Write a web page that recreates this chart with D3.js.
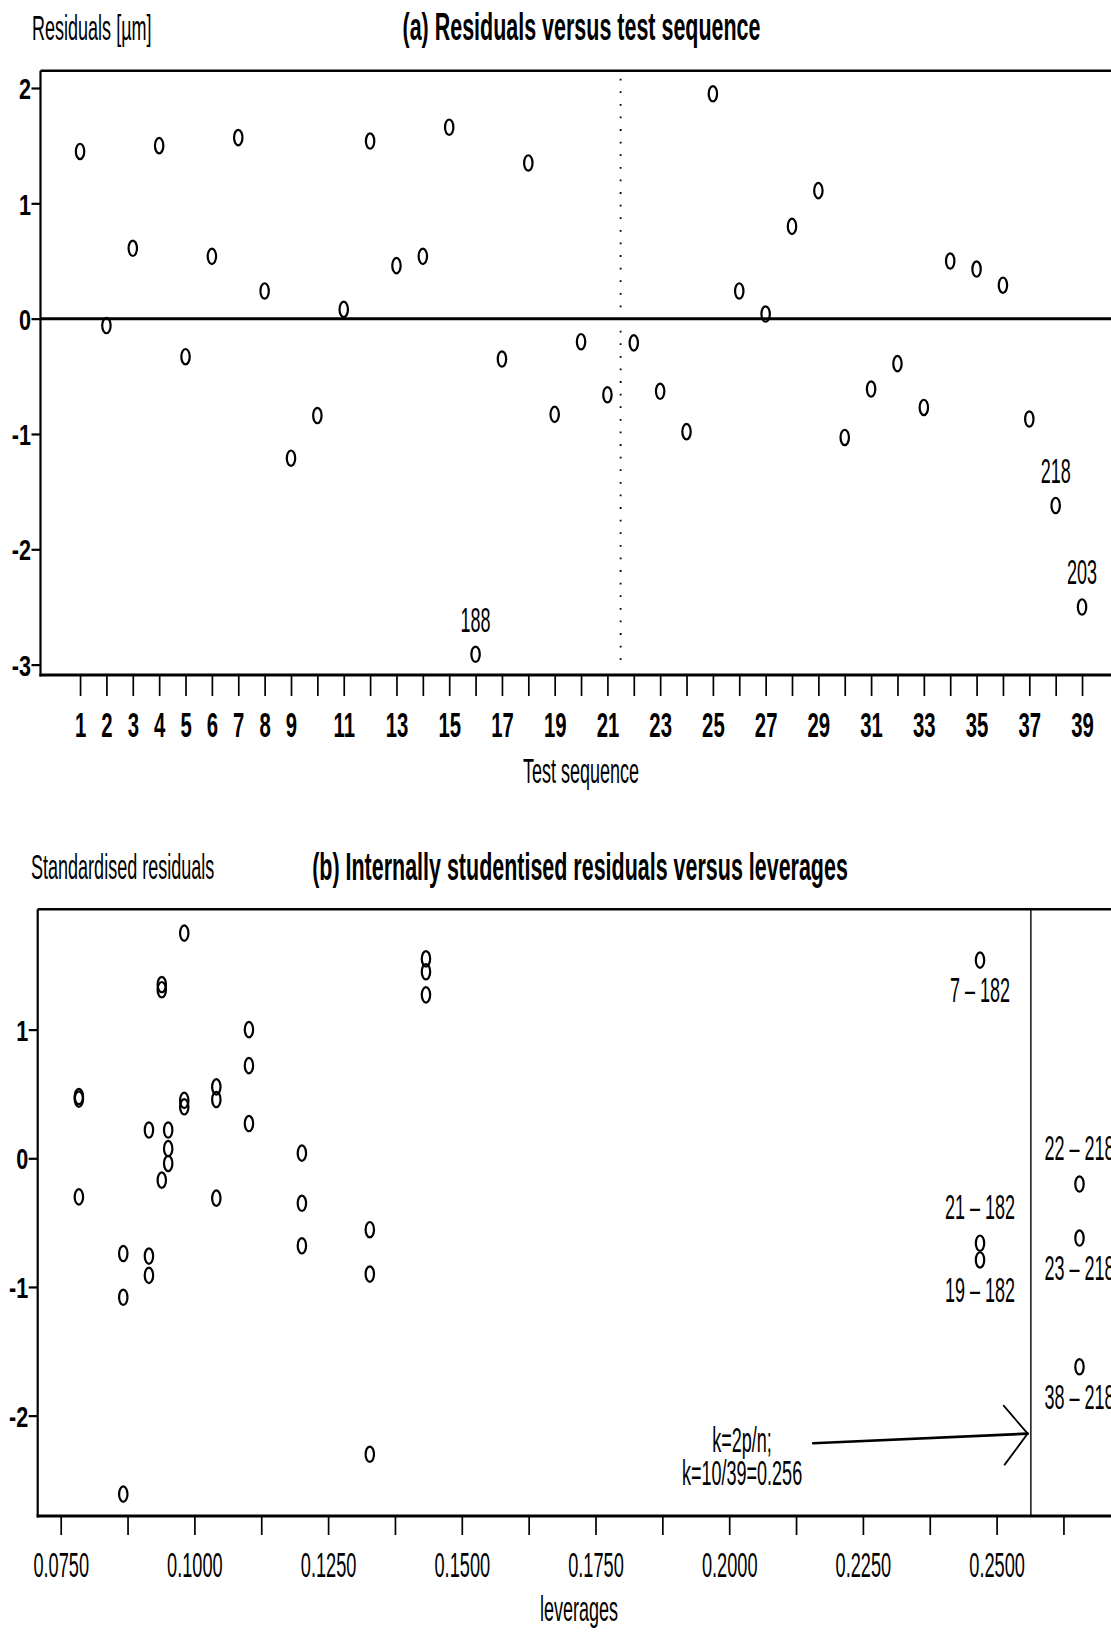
<!DOCTYPE html>
<html>
<head>
<meta charset="utf-8">
<script src="https://cdn.jsdelivr.net/npm/d3@7"></script>
<style>
  html, body { margin: 0; padding: 0; background: #fff; }
  svg { display: block; font-family: "Liberation Sans", Arial, Helvetica, sans-serif; }
</style>
</head>
<body>
<svg id="fig" width="1111" height="1632"></svg>
<script>
// ---------- Panel (a): residuals in test order ----------
const testSequence = d3.range(1, 40);
const residuals = [
  1.45, -0.06, 0.61, 1.50, -0.33, 0.54, 1.57, 0.24, -1.21, -0.84,
  0.08, 1.54, 0.46, 0.54, 1.66, -2.91, -0.35, 1.35, -0.83, -0.20,
  -0.66, -0.21, -0.63, -0.98, 1.95, 0.24, 0.04, 0.80, 1.11, -1.03,
  -0.61, -0.39, -0.77, 0.50, 0.43, 0.29, -0.87, -1.62, -2.50
];
const residualTicks = [-3, -2, -1, 0, 1, 2];
const sequenceTickLabels = [1, 2, 3, 4, 5, 6, 7, 8, 9, 11, 13, 15, 17, 19, 21, 23, 25, 27, 29, 31, 33, 35, 37, 39];
const residualCallouts = [
  { run: 16, text: "188" },
  { run: 38, text: "218" },
  { run: 39, text: "203" }
];
const blockSplit = 21.5;

// ---------- Panel (b): studentised residuals against leverage ----------
const leverageLevels = [0.0784, 0.0867, 0.0915, 0.0939, 0.0951, 0.0981, 0.1041,
                        0.1102, 0.1201, 0.1328, 0.1433, 0.2469, 0.2655];
const studentised = [
  [0.48, 0.46, -0.30],
  [-0.74, -1.08, -2.61],
  [0.22, -0.76, -0.91],
  [1.35, 1.31, -0.17],
  [0.22, 0.075, -0.04],
  [1.75, 0.45, 0.40],
  [0.555, 0.457, -0.31],
  [1.00, 0.72, 0.27],
  [0.04, -0.35, -0.68],
  [-0.555, -0.90, -2.30],
  [1.55, 1.45, 1.27],
  [1.54, -0.66, -0.79],
  [-0.20, -0.62, -1.62]
];
const leverageTicks = [0.0750, 0.0875, 0.1000, 0.1125, 0.1250, 0.1375, 0.1500, 0.1625,
                       0.1750, 0.1875, 0.2000, 0.2125, 0.2250, 0.2375, 0.2500, 0.2625];
const leverageTickLabels = [0.0750, 0.1000, 0.1250, 0.1500, 0.1750, 0.2000, 0.2250, 0.2500];
const stdTicks = [-2, -1, 0, 1];
const leverageCallouts = [
  { lev: 0.2469, value: 1.54,  text: "7 \u2013 182",  side: "below" },
  { lev: 0.2469, value: -0.66, text: "21 \u2013 182", side: "above" },
  { lev: 0.2469, value: -0.79, text: "19 \u2013 182", side: "below" },
  { lev: 0.2655, value: -0.20, text: "22 \u2013 218", side: "above" },
  { lev: 0.2655, value: -0.62, text: "23 \u2013 218", side: "below" },
  { lev: 0.2655, value: -1.62, text: "38 \u2013 218", side: "below" }
];
const leverageCutoff = 10 / 39;

// ---------- drawing helpers ----------
const svg = d3.select("#fig");
const W = 1111;

// narrow, tall lettering: glyphs are squeezed horizontally
function stretched(sel, x, y, str, o) {
  return sel.append("text")
    .attr("transform", `translate(${x},${y}) scale(${o.sx},1)`)
    .attr("font-size", o.size)
    .attr("font-weight", o.bold ? "bold" : "normal")
    .attr("text-anchor", o.anchor || "start")
    .attr("fill", "#000")
    .text(str);
}
const REG = { size: 35, sx: 0.515 };
const TITLE = { size: 38, sx: 0.565, bold: true, anchor: "middle" };

function hline(g, x1, x2, y, w) {
  g.append("line").attr("x1", x1).attr("x2", x2).attr("y1", y).attr("y2", y)
    .attr("stroke", "#000").attr("stroke-width", w);
}
function vline(g, x, y1, y2, w, dash) {
  const l = g.append("line").attr("x1", x).attr("x2", x).attr("y1", y1).attr("y2", y2)
    .attr("stroke", "#000").attr("stroke-width", w);
  if (dash) l.attr("stroke-dasharray", dash);
  return l;
}
function markers(g, data, cx, cy) {
  g.selectAll("ellipse.pt").data(data).join("ellipse")
    .attr("class", "pt")
    .attr("cx", cx).attr("cy", cy)
    .attr("rx", 4.2).attr("ry", 7.7)
    .attr("fill", "none").attr("stroke", "#000").attr("stroke-width", 2.2);
}
function styleBottomAxis(g, labelY, font) {
  g.attr("font-family", null).attr("font-size", null);
  g.select(".domain").remove();
  g.selectAll(".tick line").attr("stroke", "#000").attr("stroke-width", 1.7);
  g.selectAll(".tick text")
    .attr("y", null).attr("dy", null)
    .attr("transform", `translate(0,${labelY}) scale(${font.sx},1)`)
    .attr("font-size", font.size)
    .attr("font-weight", font.bold ? "bold" : "normal")
    .attr("fill", "#000");
}
function styleLeftAxis(g, font) {
  g.attr("font-family", null).attr("font-size", null);
  g.select(".domain").remove();
  g.selectAll(".tick line").attr("stroke", "#000").attr("stroke-width", 2.2);
  g.selectAll(".tick text")
    .attr("x", null).attr("dy", null)
    .attr("transform", `translate(-9.5,10.7) scale(${font.sx},1)`)
    .attr("font-size", font.size)
    .attr("font-weight", "bold")
    .attr("text-anchor", "end")
    .attr("fill", "#000");
}

// ---------- panel (a) ----------
const A = { top: 70.7, bottom: 675 };
const xA = d3.scaleLinear().domain([-0.5, 40.5]).range([40.5, 1121.6]);
const yA = d3.scaleLinear().domain([-3.09, 2.15]).range([A.bottom, A.top]);
const gA = svg.append("g");

stretched(gA, 32, 40, "Residuals [\u00b5m]", REG);
stretched(gA, 581.5, 40, "(a) Residuals versus test sequence", TITLE);

// frame
hline(gA, xA.range()[0], W, A.top, 2.6);
hline(gA, xA.range()[0] - 1, W, A.bottom, 3);
vline(gA, xA.range()[0], A.top, A.bottom + 1.5, 2.2);
// zero reference line
hline(gA, xA.range()[0], W, yA(0), 3);
// boundary between the two blocks of runs
vline(gA, xA(blockSplit), A.top + 8, A.bottom - 6, 1.8, "1.8 10.8");

const axA = gA.append("g").attr("transform", `translate(0,${A.bottom})`)
  .call(d3.axisBottom(xA).tickValues(testSequence).tickSize(21)
    .tickFormat(d => sequenceTickLabels.includes(d) ? String(d) : ""));
styleBottomAxis(axA, 62, { size: 35, sx: 0.58, bold: true });

const ayA = gA.append("g").attr("transform", `translate(${xA.range()[0]},0)`)
  .call(d3.axisLeft(yA).tickValues(residualTicks).tickSize(9).tickFormat(d => String(d)));
styleLeftAxis(ayA, { size: 30, sx: 0.72 });

stretched(gA, 581, 783, "Test sequence", Object.assign({ anchor: "middle" }, REG));

markers(gA.append("g"), residuals.map((v, i) => ({ run: testSequence[i], v })),
  d => xA(d.run), d => yA(d.v));

residualCallouts.forEach(c => {
  stretched(gA, xA(c.run), yA(residuals[c.run - 1]) - 22.5, c.text,
    Object.assign({ anchor: "middle" }, REG));
});

// ---------- panel (b) ----------
const B = { top: 909.3, bottom: 1516 };
const xB = d3.scaleLinear().domain([0.0707, 0.2725]).range([37.7, 37.7 + (0.2725 - 0.0707) * 5348]);
const yB = d3.scaleLinear().domain([-2.78, 1.935]).range([B.bottom, B.top]);
const gB = svg.append("g");

stretched(gB, 31, 879, "Standardised residuals", REG);
stretched(gB, 580, 880, "(b) Internally studentised residuals versus leverages", TITLE);

hline(gB, xB.range()[0], W, B.top, 2.6);
hline(gB, xB.range()[0] - 1, W, B.bottom, 3);
vline(gB, xB.range()[0], B.top, B.bottom + 1.5, 2.2);
// leverage cut-off k = 2p/n
vline(gB, xB(leverageCutoff), B.top, B.bottom, 1.4);

const axB = gB.append("g").attr("transform", `translate(0,${B.bottom})`)
  .call(d3.axisBottom(xB).tickValues(leverageTicks).tickSize(19)
    .tickFormat(d => leverageTickLabels.some(t => Math.abs(t - d) < 1e-9) ? d3.format(".4f")(d) : ""));
styleBottomAxis(axB, 61, { size: 35, sx: 0.52, bold: false });

const ayB = gB.append("g").attr("transform", `translate(${xB.range()[0]},0)`)
  .call(d3.axisLeft(yB).tickValues(stdTicks).tickSize(9).tickFormat(d => String(d)));
styleLeftAxis(ayB, { size: 30, sx: 0.72 });

stretched(gB, 579, 1621, "leverages", Object.assign({ anchor: "middle" }, REG));

const ptsB = [];
leverageLevels.forEach((lev, i) => studentised[i].forEach(v => ptsB.push({ lev, v })));
markers(gB.append("g"), ptsB, d => xB(d.lev), d => yB(d.v));

leverageCallouts.forEach(c => {
  const y = c.side === "above" ? yB(c.value) - 24 : yB(c.value) + 42;
  stretched(gB, xB(c.lev), y, c.text, Object.assign({ anchor: "middle" }, REG));
});

// annotation with arrow pointing at the cut-off line
const arrowFrom = [0.2157, -2.215], arrowTo = [leverageCutoff - 0.0006, -2.14];
const ax0 = xB(arrowFrom[0]), ay0 = yB(arrowFrom[1]);
const ax1 = xB(arrowTo[0]), ay1 = yB(arrowTo[1]);
const gArrow = gB.append("g").attr("stroke", "#000").attr("fill", "none").attr("stroke-linecap", "round");
gArrow.append("line").attr("x1", ax0).attr("y1", ay0).attr("x2", ax1).attr("y2", ay1).attr("stroke-width", 2.6);
gArrow.append("polyline")
  .attr("points", `${ax1 - 24},${ay1 - 28} ${ax1},${ay1} ${ax1 - 23},${ay1 + 31}`)
  .attr("stroke-width", 1.8);

stretched(gB, xB(0.2024), yB(-2.285), "k=2p/n;", Object.assign({ anchor: "middle" }, REG));
stretched(gB, xB(0.2024), yB(-2.54), "k=10/39=0.256", Object.assign({ anchor: "middle" }, REG));
</script>
</body>
</html>
